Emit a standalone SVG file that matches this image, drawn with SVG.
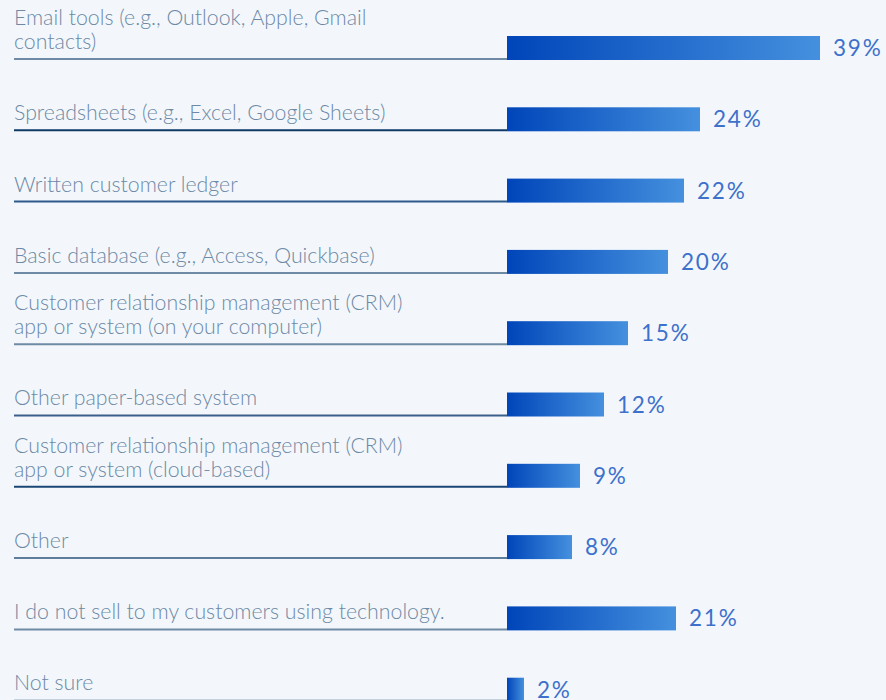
<svg xmlns="http://www.w3.org/2000/svg" width="886" height="700" viewBox="0 0 886 700">
<defs>
<linearGradient id="g" x1="0" y1="0" x2="1" y2="0">
<stop offset="0" stop-color="#0045b9"/>
<stop offset="1" stop-color="#4590de"/>
</linearGradient>
</defs>
<style>
.lbl{font-family:Lato,"Liberation Sans",sans-serif;font-weight:300;font-size:21.3px;fill:#6d89a5}
.pct{font-family:Lato,"Liberation Sans",sans-serif;font-weight:400;font-size:22.5px;letter-spacing:1.8px;fill:#3d71cb}
.bar{fill:url(#g)}
.ln{stroke-width:2}
</style>
<rect width="886" height="700" fill="#f3f7fc"/>
<g id="connectors">
<line class="ln" x1="14" y1="59" x2="507" y2="59" stroke="#6f8aa5"/>
<line class="ln" x1="14" y1="130.3" x2="507" y2="130.3" stroke="#0f3a66"/>
<line class="ln" x1="14" y1="201.6" x2="507" y2="201.6" stroke="#2c5a8a"/>
<line class="ln" x1="14" y1="272.9" x2="507" y2="272.9" stroke="#6f8aa5"/>
<line class="ln" x1="14" y1="344.2" x2="507" y2="344.2" stroke="#6f8aa5"/>
<line class="ln" x1="14" y1="415.5" x2="507" y2="415.5" stroke="#3a6089"/>
<line class="ln" x1="14" y1="486.8" x2="507" y2="486.8" stroke="#1a4675"/>
<line class="ln" x1="14" y1="558.1" x2="507" y2="558.1" stroke="#5d7d9c"/>
<line class="ln" x1="14" y1="629.4" x2="507" y2="629.4" stroke="#6f8aa5"/>
<line class="ln" x1="14" y1="700" x2="507" y2="700" stroke="#c6d0da"/>
</g>
<g id="row1"><text class="lbl" x="14" y="25">Email tools (e.g., Outlook, Apple, Gmail</text><text class="lbl" x="14" y="49">contacts)</text><rect class="bar" x="507" y="36" width="313" height="24"/><text class="pct" x="833" y="56">39%</text></g>
<g id="row2"><text class="lbl" x="14" y="120">Spreadsheets (e.g., Excel, Google Sheets)</text><rect class="bar" x="507" y="107.3" width="193" height="24"/><text class="pct" x="713" y="127.3">24%</text></g>
<g id="row3"><text class="lbl" x="14" y="191.5">Written customer ledger</text><rect class="bar" x="507" y="178.6" width="177" height="24"/><text class="pct" x="697" y="198.6">22%</text></g>
<g id="row4"><text class="lbl" x="14" y="262.8">Basic database (e.g., Access, Quickbase)</text><rect class="bar" x="507" y="249.9" width="161" height="24"/><text class="pct" x="681" y="269.9">20%</text></g>
<g id="row5"><text class="lbl" x="14" y="310">Customer relationship management (CRM)</text><text class="lbl" x="14" y="334">app or system (on your computer)</text><rect class="bar" x="507" y="321.2" width="121" height="24"/><text class="pct" x="641" y="341.2">15%</text></g>
<g id="row6"><text class="lbl" x="14" y="405.3">Other paper-based system</text><rect class="bar" x="507" y="392.5" width="97" height="24"/><text class="pct" x="617" y="412.5">12%</text></g>
<g id="row7"><text class="lbl" x="14" y="452.6">Customer relationship management (CRM)</text><text class="lbl" x="14" y="476.6">app or system (cloud-based)</text><rect class="bar" x="507" y="463.8" width="73" height="24"/><text class="pct" x="593" y="483.8">9%</text></g>
<g id="row8"><text class="lbl" x="14" y="547.9">Other</text><rect class="bar" x="507" y="535.1" width="65" height="24"/><text class="pct" x="585" y="555.1">8%</text></g>
<g id="row9"><text class="lbl" x="14" y="619.2">I do not sell to my customers using technology.</text><rect class="bar" x="507" y="606.4" width="169" height="24"/><text class="pct" x="689" y="626.4">21%</text></g>
<g id="row10"><text class="lbl" x="14" y="690">Not sure</text><rect class="bar" x="507" y="677.7" width="17" height="24"/><text class="pct" x="537" y="697.7">2%</text></g>
</svg>
